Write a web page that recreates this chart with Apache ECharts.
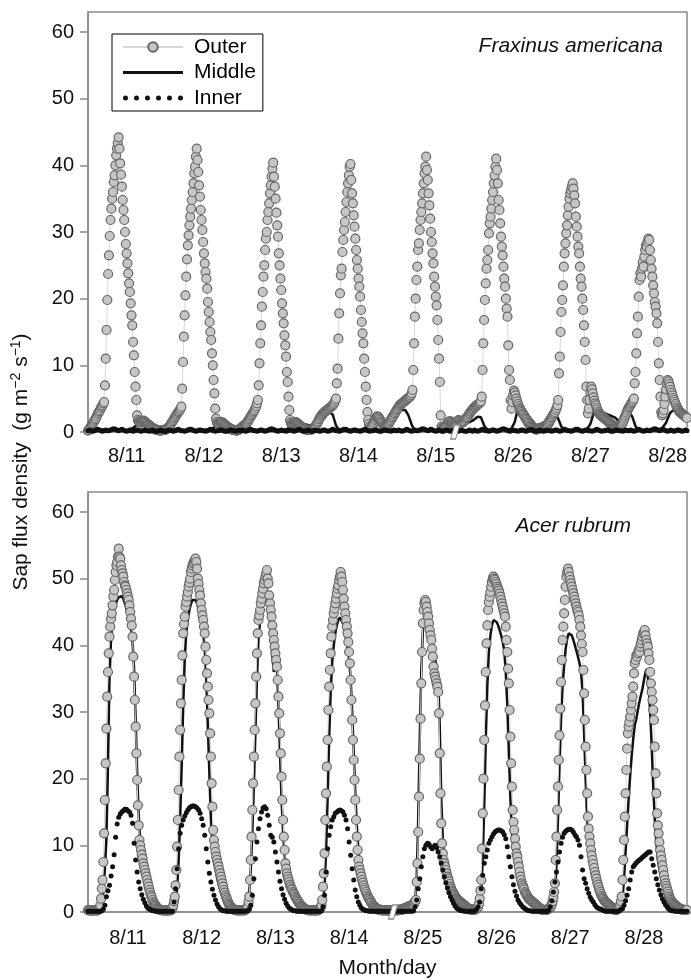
<!DOCTYPE html>
<html><head><meta charset="utf-8">
<script src="https://cdn.jsdelivr.net/npm/echarts@6.0.0/dist/echarts.min.js"></script>
<style>html,body{margin:0;padding:0;background:#fff}#c{width:691px;height:980px}</style>
</head><body><div id="c"></div><script>
// ---------- labels ----------
const topDayLabels = ['8/11','8/12','8/13','8/14','8/15','8/26','8/27','8/28'];
const botDayLabels = ['8/11','8/12','8/13','8/14','8/25','8/26','8/27','8/28'];
const topLabelHours = [12,36,60,84,108,132,156,180];
const botLabelHours = [13,37,61,85,109,133,157,181];
const yTicks = [0,10,20,30,40,50,60];
const topBreakHour = 114;
const botBreakHour = 99.3;
const OUTER_STEP = 0.25; // hours between outer readings
const LINE_STEP = 0.5;   // hours between middle / inner readings

// ---------- Fraxinus americana ----------
const topOuter = [
0.2,0.3,0.5,0.7,0.9,1.1,1.3,1.5,1.7,1.9,2.1,2.4,2.7,2.9,3.1,3.3,3.6,3.8,4.0,4.3,
4.5,7,11,15.3,19.8,23.7,26.5,29.4,31.8,33.5,35,36,37.5,38.5,40,41.5,42.5,43.3,44.2,
42.5,40.3,38.6,36.8,34.8,33.3,31.8,30,28.2,26.8,25.3,23.8,22.3,21,19.3,17.5,16,13.5,11.5,9,6.8,4.8,2.5,
1.8,1.6,1.5,1.4,1.4,1.5,1.6,1.7,1.6,1.5,1.4,1.3,1.2,1.1,1.0,0.9,0.8,0.7,0.6,0.5,0.5,0.4,0.4,0.3,0.3,0.3,0.3,0.2,0.2,0.2,0.3,0.3,0.3,0.3,
0.3,0.4,0.5,0.6,0.7,0.8,1.0,1.2,1.4,1.6,1.8,2.0,2.2,2.4,2.6,2.8,3.0,3.1,3.3,3.5,
3.8,6.5,10.5,14.3,17.5,20.5,23.3,25.9,28,29.5,31,32.3,33.5,34.8,36,37.3,38.8,39.8,41.3,42.5,
40.8,39,37,35.3,33.3,31.8,30.3,28.5,26.8,25.3,24,23,21.5,19.5,18,16.5,15,13.8,11.8,10,7.8,5.8,3.5,2,
1.5,1.3,1.2,1.2,1.3,1.4,1.5,1.4,1.3,1.2,1.1,1.0,0.9,0.8,0.7,0.6,0.5,0.5,0.4,0.4,0.3,0.3,0.3,0.3,0.2,0.2,0.3,0.3,0.4,0.5,0.6,0.7,
0.8,0.9,1.0,1.1,1.2,1.3,1.5,1.7,1.9,2.1,2.3,2.5,2.7,2.9,3.1,3.3,3.6,3.9,4.3,
4.8,7,10.3,13.3,16,18.8,21,23.3,25,27.3,29,30,31.8,33,34.3,35.8,37,38.3,39.5,40.4,
38.3,36.8,35,32.9,31,29.3,26.8,25,23,21.3,19.3,17.8,16.3,14.5,13,11.3,9,7.5,5.3,3.3,1.8,
1.4,1.2,1.1,1.2,1.3,1.4,1.5,1.4,1.3,1.2,1.1,1.0,0.9,0.8,0.7,0.6,0.5,0.5,0.4,0.4,0.3,0.3,0.3,0.3,0.3,0.3,0.4,0.5,0.6,0.7,0.8,1.0,1.2,1.4,1.6,1.9,
2.1,2.3,2.5,2.6,2.8,2.9,3.0,3.1,3.2,3.3,3.4,3.5,3.6,3.7,3.8,3.9,4.0,4.2,4.4,4.7,
5,7.3,9.5,14,17.8,20.8,23.5,24.5,27,28.8,30.3,31.5,33,34.5,36,37.3,38.5,39.8,40.2,
37.8,35.8,34.3,32.5,30.8,29,27.3,25.8,24.5,23,21.8,20.3,18.3,16.5,14.8,13.3,11,9,6.8,4.8,3,1.8,
1.2,0.8,0.6,0.7,0.9,1.2,1.5,1.8,2.0,2.2,2.3,2.3,2.2,2.0,1.8,1.6,1.4,1.2,1.0,0.9,0.8,0.8,0.9,1.0,1.2,1.4,1.6,1.8,2.0,2.2,2.4,2.6,2.8,3.0,3.2,
3.4,3.6,3.8,4.0,4.1,4.2,4.3,4.4,4.5,4.6,4.7,4.8,4.9,5.0,5.1,5.2,5.3,5.5,5.8,
6.3,9.3,13.3,17.3,20,22.8,24.8,27.3,28.3,30.3,31.8,33,34.3,35.8,37.3,38.8,39.8,41.3,
39.3,37.8,35.8,34,32,30,28.5,26.8,25.3,23.3,21.8,20.3,19,16.8,13.8,11,7.5,2.5,0.8,
0.6,0.5,0.5,0.6,0.8,1.0,1.2,1.4,1.5,1.6,1.6,1.5,1.4,1.3,1.2,1.1,1.0,1.2,1.4,1.6,1.8,1.7,1.6,1.5,1.4,1.4,1.5,1.6,1.8,2.0,
2.1,2.2,2.4,2.6,2.8,3.0,3.1,3.3,3.4,3.6,
3.7,3.8,3.9,4.0,4.1,4.2,4.3,4.4,4.6,
5.3,9.3,13.3,16.8,19.8,22.3,24.5,25.8,27.3,29.8,31.3,32.3,33.5,34.8,36,37.3,38.5,39.8,41,
39.3,37.3,34.8,33.3,31.3,29.3,27.8,26.5,24.8,23,21.8,20,18.5,17.3,13,9.3,7.8,4.8,
3.5,4.5,5.5,6.2,5.9,5.5,5.0,4.6,4.2,3.9,3.6,3.4,
3.2,3.0,2.8,2.6,2.4,2.2,2.0,1.8,1.6,1.4,1.2,1.0,0.9,0.8,0.7,0.6,0.5,0.5,0.4,0.4,0.4,0.5,0.5,0.5,0.6,0.6,0.7,0.7,0.8,0.8,0.9,1.0,1.1,1.2,
1.4,1.6,1.8,2.0,
2.2,2.4,2.6,2.8,3.0,3.3,3.6,4.0,
4.8,8.8,11.3,15,18,19.8,22,24.8,26.8,28.3,29.8,31,32.5,33.8,35,35.8,36.3,36.8,37.3,
36.5,35.5,34.3,32.3,30.8,29.3,27.8,26.8,24.8,23,21.8,20,18.3,16,13.5,10.8,6.8,4.8,2.8,
3.5,4.8,6.0,6.8,6.4,5.8,5.2,4.7,4.3,4.0,
3.6,3.3,3.0,2.8,2.6,2.5,2.4,2.3,2.2,2.1,2.0,1.9,1.8,1.7,1.6,1.5,1.4,1.3,1.2,1.1,1.0,0.9,0.8,0.8,0.7,0.7,0.8,0.8,0.9,1.0,1.1,1.2,
1.4,1.7,2.0,2.3,2.6,2.9,3.2,3.5,
3.7,3.9,4.1,4.3,4.5,4.7,
5,7.3,9,11.8,14.8,17.3,20.3,22.8,23.8,23.3,24.5,25.5,24.8,26.3,27.3,28,27.8,28.5,29,28.8,
27.3,25.8,24.5,23.3,22,20.8,19.5,18.8,17.8,16.3,13.5,10.3,7.8,5.3,3,
2.5,2.8,3.3,4.2,5.3,6.4,7.3,7.8,7.6,7.2,6.8,6.3,5.9,5.5,5.1,4.8,4.5,4.2,3.9,3.6,3.4,3.2,3.0,2.9,2.8,2.7,2.6,2.5,2.4,2.3,2.2,2.1
];
const topMiddle = [
0.1,0.2,0.3,0.3,0.4,0.4,0.5,0.5,0.4,0.3,0.3,0.2,0.3,0.3,0.2,0.2,0.3,0.4,0.3,0.2,0.3,0.4,0.3,0.3,0.2,0.3,0.4,0.5,0.6,0.8,1.0,1.2,1.4,1.5,1.6,1.6,1.5,1.4,1.3,1.1,0.9,0.7,0.5,0.4,0.3,0.3,0.2,0.3,
0.3,0.3,0.4,0.4,0.5,0.5,0.4,0.3,0.3,0.2,0.3,0.3,0.2,0.3,0.3,0.4,0.3,0.2,0.3,0.3,0.2,0.3,0.3,0.4,0.3,0.2,0.3,0.3,0.4,0.5,0.6,0.8,1.0,1.2,1.3,1.4,1.4,1.3,1.3,1.2,1.1,1.0,0.8,0.6,0.5,0.4,0.3,0.3,
0.3,0.4,0.4,0.5,0.5,0.4,0.4,0.3,0.3,0.2,0.3,0.3,0.2,0.2,0.3,0.4,0.3,0.3,0.2,0.3,0.3,0.4,0.3,0.2,0.3,0.3,0.3,0.4,0.5,0.6,0.8,1.0,1.2,1.3,1.4,1.4,1.4,1.3,1.2,1.2,1.1,1.0,0.9,0.8,0.7,0.7,0.8,1.0,
1.3,1.6,1.9,2.2,2.5,2.8,3.0,3.1,2.6,1.8,1.0,0.6,0.4,0.3,0.3,0.2,0.3,0.3,0.4,0.3,0.2,0.3,0.3,0.2,0.3,0.3,0.3,0.4,0.5,0.7,0.9,1.1,1.3,1.5,1.7,1.9,2.0,2.0,1.9,1.8,1.6,1.4,1.3,1.4,1.7,2.0,2.4,2.8,
3.0,3.1,3.2,3.3,3.4,3.3,3.0,2.5,1.8,1.1,0.6,0.4,0.3,0.3,0.2,0.3,0.3,0.2,0.3,0.3,0.4,0.3,0.2,0.3,0.3,0.2,0.3,0.3,0.3,0.4,0.5,0.6,0.7,0.8,0.8,0.9,0.9,1.0,1.0,1.1,1.1,1.2,1.2,1.3,1.4,1.5,1.6,1.7,
1.9,2.1,2.3,2.5,2.2,1.6,1.0,0.6,0.4,0.3,0.3,0.2,0.3,0.3,0.2,0.3,0.3,0.4,0.3,0.3,0.2,0.3,0.4,0.5,0.8,1.5,2.5,3.5,4.0,3.8,3.5,3.2,2.9,2.6,2.3,2.0,1.7,1.4,1.1,0.8,0.6,0.4,0.3,0.3,0.2,0.3,0.3,0.3,
1.0,1.5,2.0,2.4,2.0,1.4,0.8,0.5,0.3,0.3,0.2,0.3,0.3,0.2,0.3,0.3,0.4,0.3,0.2,0.3,0.3,0.4,0.5,0.7,1.2,2.0,2.8,3.2,3.3,3.2,3.1,3.0,2.9,2.8,2.7,2.6,2.5,2.4,2.3,2.2,2.0,1.8,1.6,1.4,1.4,1.6,1.9,2.2,
2.5,2.7,2.3,1.6,0.9,0.5,0.3,0.3,0.2,0.3,0.3,0.2,0.3,0.3,0.4,0.3,0.3,0.2,0.3,0.4,0.5,0.7,1.0,1.4,2.0,2.6,3.0,3.2,3.3,3.3,3.2,3.1,3.0,2.9,2.8,2.7,2.6
];
const topInner = [
0.2,0.3,0.2,0.1,0.2,0.3,0.4,0.3,0.2,0.1,0.2,0.3,0.2,0.2,0.3,0.4,0.5,0.4,0.3,0.2,0.3,0.4,0.3,0.2,0.1,0.2,0.3,0.2,0.1,0.2,0.3,0.3,0.2,0.1,0.2,0.3,0.2,0.2,0.1,0.2,0.3,0.2,0.1,0.1,0.2,0.3,0.2,0.1,
0.1,0.2,0.3,0.3,0.2,0.1,0.2,0.3,0.4,0.3,0.2,0.2,0.1,0.2,0.3,0.4,0.4,0.3,0.2,0.1,0.2,0.3,0.3,0.2,0.2,0.1,0.2,0.3,0.4,0.3,0.2,0.1,0.2,0.2,0.3,0.3,0.2,0.1,0.1,0.2,0.3,0.3,0.2,0.2,0.1,0.2,0.3,0.2,
0.3,0.2,0.1,0.2,0.3,0.4,0.3,0.2,0.2,0.1,0.2,0.3,0.3,0.2,0.1,0.2,0.3,0.4,0.5,0.4,0.3,0.2,0.1,0.2,0.3,0.2,0.2,0.1,0.2,0.3,0.3,0.2,0.1,0.2,0.3,0.4,0.3,0.2,0.1,0.2,0.2,0.3,0.2,0.1,0.2,0.3,0.2,0.2,
0.1,0.2,0.3,0.3,0.2,0.1,0.2,0.3,0.4,0.3,0.2,0.2,0.1,0.2,0.3,0.4,0.4,0.3,0.2,0.1,0.2,0.3,0.3,0.2,0.2,0.1,0.2,0.3,0.4,0.3,0.2,0.1,0.2,0.2,0.3,0.3,0.2,0.1,0.1,0.2,0.3,0.3,0.2,0.2,0.1,0.2,0.3,0.2,
0.2,0.3,0.2,0.1,0.2,0.3,0.4,0.3,0.2,0.1,0.2,0.3,0.2,0.2,0.3,0.4,0.5,0.4,0.3,0.2,0.3,0.4,0.3,0.2,0.1,0.2,0.3,0.2,0.1,0.2,0.3,0.3,0.2,0.1,0.2,0.3,0.2,0.2,0.1,0.2,0.3,0.2,0.1,0.1,0.2,0.3,0.2,0.1,
0.3,0.2,0.1,0.2,0.3,0.4,0.3,0.2,0.2,0.1,0.2,0.3,0.3,0.2,0.1,0.2,0.3,0.4,0.5,0.4,0.3,0.2,0.1,0.2,0.3,0.2,0.2,0.1,0.2,0.3,0.3,0.2,0.1,0.2,0.3,0.4,0.3,0.2,0.1,0.2,0.2,0.3,0.2,0.1,0.2,0.3,0.2,0.2,
0.1,0.2,0.3,0.3,0.2,0.1,0.2,0.3,0.4,0.3,0.2,0.2,0.1,0.2,0.3,0.4,0.4,0.3,0.2,0.1,0.2,0.3,0.3,0.2,0.2,0.1,0.2,0.3,0.4,0.3,0.2,0.1,0.2,0.2,0.3,0.3,0.2,0.1,0.1,0.2,0.3,0.3,0.2,0.2,0.1,0.2,0.3,0.2,
0.2,0.3,0.2,0.1,0.2,0.3,0.4,0.3,0.2,0.1,0.2,0.3,0.2,0.2,0.3,0.4,0.5,0.4,0.3,0.2,0.3,0.4,0.3,0.2,0.1,0.2,0.3,0.2,0.1,0.2,0.3,0.3,0.2,0.1,0.2,0.3,0.2
];

// ---------- Acer rubrum ----------
const botOuter = [
0.3,0.2,0.3,0.3,0.2,0.3,0.2,0.3,0.3,0.2,0.3,0.3,0.2,0.3,0.4,0.6,
1.0,2.0,3.5,4.8,7.5,11.8,16.8,22.3,27.5,32.3,36,38.8,41.3,42.8,
44,44.8,46,47.3,48.3,49.8,51,52,52.5,53.3,54.5,
53.3,53,52,51.3,50.8,50.3,49.5,49,48.8,48.3,47.8,47.3,46.8,46,45,44,43,
41.3,38.3,35.3,31.8,27.8,23.8,19.8,16,13,10.8,
10,9.3,8.6,8,7.3,6.8,6.3,5.8,5.3,4.8,4.3,3.8,3.3,2.9,2.5,2.2,1.8,1.5,1.3,1.1,1,0.8,0.6,
0.5,0.4,0.4,0.3,0.3,0.3,0.2,0.3,0.3,0.2,0.3,0.3,0.2,0.2,0.3,0.3,0.2,0.3,0.4,0.6,
1.0,1.6,2.3,4.0,6.3,9.8,13.8,18.3,23.3,27.3,31.3,34.8,38.5,41.8,43.2,44.3,
45.8,46.5,47.3,48,48.8,49.4,50,51,51.5,52,52.3,52.5,52.8,53,
52.5,51.5,50,49.2,48.3,47.5,46.3,45.3,44.5,43.8,42.8,41.8,
39.8,37.8,35.8,33.8,31.8,29.8,26.8,23.3,19.3,15.8,12.3,
10.8,9.8,9,8.3,7.8,7.3,6.8,6.3,5.8,5.3,4.8,4.3,3.8,3.3,2.9,2.5,2.2,1.9,1.6,1.3,1.1,0.9,0.8,0.6,
0.5,0.4,0.4,0.3,0.3,0.3,0.2,0.3,0.3,0.2,0.3,0.3,0.2,0.3,0.3,0.2,0.3,0.3,0.4,0.6,0.9,
1.5,2.3,4.8,7.8,11.3,15.3,19.3,23.3,27.3,31.3,35.3,38.8,41.8,43.8,
44.5,45.3,46.3,47,47.8,48.5,49.3,49.8,50.3,50.8,51.3,
50,49.3,47.5,46.3,45.3,44.3,43,41.8,40.8,39.8,38.8,37.8,36.8,
34.8,32.3,29.8,26.8,23.8,20.3,16.8,13.8,11.3,9.3,7.3,
6.5,5.8,5.3,4.9,4.5,4.1,3.8,3.5,3.3,3.0,2.8,2.6,2.3,2.1,1.9,1.7,1.5,1.3,1.2,1.0,0.9,0.8,0.7,0.6,0.5,0.4,
0.4,0.3,0.3,0.3,0.2,0.3,0.3,0.2,0.3,0.3,0.2,0.3,0.2,0.3,0.3,0.2,0.3,0.4,0.5,0.7,1.0,
1.8,3.8,5.8,8.8,13.8,17.8,21.8,25.8,30.3,33.8,36.3,38.8,41.3,
42.8,43.8,44.8,45.5,46.3,47,47.8,48.5,49,49.8,50.3,51,
50.3,49.5,48.3,47,45.8,44.8,43.8,42.8,41.8,40.5,39,
37.3,34.8,31.8,28.8,25.8,22.8,19.8,16.8,13.8,11.3,9.3,7.8,6.8,
6.3,5.8,5.3,4.8,4.4,4.0,3.6,3.3,3.0,2.7,2.4,2.2,2.0,1.8,1.6,1.4,1.2,1.0,0.9,0.8,0.7,0.6,0.5,0.4,0.4,
0.4,0.3,0.3,0.3,0.2,0.3,0.3,0.2,0.3,0.3,0.2,0.2,0.3,0.3,0.2,0.3,0.3,0.2,0.2,0.3,0.3,0.2,0.3,0.3,0.2,0.3,0.3,0.4,0.3,0.3,0.4,0.4,0.5,0.5,0.6,0.6,0.7,0.7,0.8,0.8,0.9,0.9,1.0,1.0,1.1,1.2,1.4,1.6,
1.8,4.5,7.3,12,17.3,23,29,34.3,39,43.3,
45.3,46.3,46.8,46.5,45.8,45,
44.3,43.3,42.3,41.5,40.8,39.5,38.3,36.8,
35.8,35.3,34.8,34.3,33.8,33,
29.8,23.8,17.8,13.3,10.3,8.8,
7.8,7.3,6.8,6.3,5.8,5.3,5.0,4.6,4.2,3.8,3.5,3.2,3.0,2.8,2.6,2.4,2.2,2.0,1.9,1.8,1.7,1.6,1.5,1.4,1.3,1.2,1.1,1.0,0.9,0.8,0.7,0.6,0.5,
0.5,0.4,0.4,0.4,0.3,0.3,0.3,0.3,0.4,0.4,0.5,0.6,0.8,1.2,2.0,3.2,
4.8,9.5,14.8,20,25.8,31,36,40.3,43,45.3,
46.5,47.3,48,48.8,49.5,50,50.3,
50,49.8,49.5,49.2,48.8,48.5,48.2,47.8,47.3,46.8,46.3,45.8,45.3,44.8,44.3,
42.8,40.8,39,36.5,34.3,30.3,26.3,22.3,18.8,15.3,13.5,
12.3,11,9.8,8.8,8.3,7.5,6.8,6,5.3,4.8,4.3,4.0,3.7,3.4,3.0,2.8,2.6,2.4,2.2,2.0,1.9,1.8,1.7,1.6,1.5,1.4,1.3,1.2,1.1,1.0,0.9,0.8,0.7,0.6,0.5,0.4,
0.4,0.3,0.3,0.3,0.3,0.3,0.3,0.4,0.4,0.5,0.6,0.7,0.9,1.2,1.6,2.2,3.0,
4.3,7.8,11.3,15.3,18.8,22.8,26.5,30.5,34.5,37.8,
40.8,42.8,44.8,46.8,48.8,50.3,51,51.5,
51,50.3,49.8,49.3,48.8,48.3,47.8,47.3,46.8,46.3,45.8,45.3,45,44.5,43.8,42.8,41.5,40.2,
39,36.3,32.8,28.8,24.8,21.3,17.8,14.3,12.5,11.3,10.3,
9.3,8.5,7.8,7.2,6.6,6,5.5,5,4.5,4.1,3.7,3.3,3,2.7,2.4,2.2,2,1.8,1.6,1.5,1.4,1.3,1.2,1.1,1,0.9,0.8,0.7,0.6,0.5,0.4,
0.3,0.3,0.3,0.4,0.5,0.6,0.8,1.1,1.6,2.3,
4.8,7.8,10.8,14.3,17.8,21.3,24.5,26.8,27.8,28.5,29.3,30.3,31.3,32.3,33.8,35.8,37.3,
37.8,38.5,38.3,38.8,39.3,39,39.8,40.3,40.8,41.3,41.8,42,42.3,
41.5,40.8,40.3,39.8,38.8,37.8,36,34.3,33,31.8,30.3,28.8,
24.8,20.8,17.8,14.8,13,11.8,10.5,9.3,
8.5,7.8,7,6.3,5.5,4.8,4.3,3.9,3.5,3.1,2.7,2.3,2,1.8,1.6,1.4,1.3,1.2,1.1,1,0.9,0.8,0.7,0.6,0.5,0.5,0.4,0.4,0.4,0.3,0.3,0.3,0.3,0.3,0.3
];
const botMiddle = [
0.2,0.2,0.2,0.2,0.2,0.2,0.2,0.3,0.5,
1.2,3,6.5,11,22,35,41,44,
45.3,46.2,46.8,47.2,47.5,47.4,47,46.3,45.5,44.6,43.5,42.5,
40.5,36.5,29,21,14.5,10.5,8,
6.3,5,4,3.2,2.5,2,1.6,1.2,1,0.8,0.6,0.5,
0.4,0.3,0.3,0.2,0.2,0.2,0.2,0.3,
0.6,1.5,3.5,7.5,14,22,31,38,
42,44,45.3,46.2,46.8,47,46.8,46.3,45.5,44.5,43.3,42,
39.5,35,28,21,14,10,8,
6.5,5.2,4.2,3.4,2.7,2.1,1.7,1.3,1,0.8,0.6,0.5,0.4,
0.3,0.3,0.2,0.2,0.2,0.2,0.3,0.5,
1.2,3,6.5,12,19,27,35,41,
43.5,45,46,46.8,47.3,47,
45,42,38.5,36,38,36.5,
31,24,17,12,8.5,6.5,
5.2,4.3,3.6,3,2.5,2,1.6,1.3,1,0.8,0.6,0.5,
0.4,0.3,0.3,0.2,0.2,0.2,0.2,0.2,0.3,0.4,0.6,
1.5,4,9,17,26,33,37.5,
40,41.8,43,43.8,44.2,44,43.3,42.3,41,39.5,38,
35,30,24,18,13,9.5,7,
5.5,4.5,3.6,3,2.4,2,1.6,1.3,1,0.8,0.6,0.5,
0.4,0.3,0.3,0.3,0.2,0.2,0.2,0.2,0.2,0.2,0.2,0.2,0.2,0.2,0.2,0.2,0.2,0.3,0.3,0.3,0.4,0.5,0.7,
1.5,5,14,26,36,42,
45,46.5,47,45.5,43,41,39.5,38,36.5,35,
28,17,11,
8,6.5,5.3,4.3,3.5,2.9,2.4,2,1.7,1.4,1.2,1,0.8,0.7,0.6,0.5,
0.4,0.3,0.3,0.3,0.3,0.4,0.6,1.2,
3,8,16,26,34,39,
41.5,43,43.8,44,43.5,43,42.3,41.5,40.5,39.3,
36,31,24,17,12,9,
7.5,6.3,5.3,4.5,3.8,3.2,2.7,2.3,2,1.7,1.4,1.2,1,0.8,0.7,0.6,0.5,0.4,
0.3,0.3,0.3,0.3,0.3,0.4,0.6,1.0,
2.5,7,14,22,29,34,
37,39.5,41,41.8,42,41.5,40.8,40,39.2,38.3,37.3,36,
33,27,20,14,10,8,
6.5,5.3,4.4,3.6,3,2.5,2.1,1.7,1.4,1.2,1,0.8,0.6,0.5,0.4,
0.3,0.3,0.4,0.6,1.0,
2,5,9,13,17,20.5,23.5,26,28,
29,30.3,31.5,32.5,33.5,34.8,36,36.5,
34,30,25,19,14,10.5,8,6.5,
5.3,4.4,3.7,3.1,2.6,2.2,1.8,1.5,1.3,1.1,0.9,0.8,0.7,0.6,0.5,0.4,0.4,0.3
];
const botInner = [
0.1,0.1,0.1,0.1,0.1,0.1,0.1,0.1,0.1,0.2,0.4,
1.0,2.3,3.2,4.0,5.4,6.8,8.6,11.2,13.2,14.2,
14.7,15,15.2,15.4,15.4,15.2,15,14.5,13.3,
10.3,7.8,6,4.5,3.5,2.6,1.9,1.4,0.9,0.6,0.4,0.3,
0.2,0.2,0.1,0.1,0.1,0.1,0.1,0.1,0.1,0.1,0.1,0.1,0.1,0.1,
1.5,3.5,6.5,9.5,11.8,13,
13.8,14.4,14.9,15.3,15.6,15.8,15.9,15.9,15.8,15.6,15.3,
14.8,14,13,11.5,9.5,7.5,5.8,4.5,3.4,2.5,1.8,1.2,0.8,0.5,0.3,
0.2,0.2,0.1,0.1,0.1,0.1,0.1,0.1,0.1,0.1,0.1,0.1,0.1,0.1,0.1,0.2,
0.2,0.4,1.0,2.5,5,8,10.5,12.5,
14,15,15.6,15.8,15.5,14.5,13,
11.5,11.2,10.5,
9,7.5,6,4.6,3.5,2.6,1.9,1.3,0.9,0.6,0.4,0.3,0.2,
0.2,0.1,0.1,0.1,0.1,0.1,0.1,0.1,0.1,0.1,0.1,0.1,0.1,0.1,0.1,0.1,0.1,0.2,
0.8,2.5,6,9.5,11.5,12.8,13.8,
14.3,14.8,15,15.2,15.3,15.2,15,14.5,13.8,
12.5,10.5,8.5,6.5,4.8,3.3,2.3,1.5,1,0.6,0.4,0.3,0.2,
0.2,0.1,0.1,0.1,0.1,0.1,0.1,0.1,0.1,0.1,0.1,0.1,0.1,0.1,0.1,0.1,0.1,0.1,0.1,0.1,0.1,0.1,0.1,0.1,0.1,0.1,0.1,0.1,0.1,0.1,0.2,
0.8,1.8,3.5,5,6.8,8.3,9.5,
10,10.3,10.2,9.8,9.5,9.8,10,9.6,9,
8.3,7.3,6.3,5.3,4.4,3.6,2.9,2.3,1.8,1.3,0.9,0.6,0.4,0.3,
0.2,0.2,0.1,0.1,0.1,0.1,0.1,0.1,0.1,0.2,0.4,0.8,1.5,
3.5,5.5,7.3,8.3,9.3,10.3,10.8,11.3,11.7,12,12.2,12.3,
12.3,12.2,12,11.6,11,
9.8,8.3,6.8,5.3,4.1,3.1,2.4,1.8,1.4,1.1,0.8,0.6,0.4,0.3,0.2,0.2,0.1,
0.1,0.1,0.1,0.1,0.1,0.1,0.1,0.1,0.1,0.1,0.3,0.8,1.7,3.0,
4.5,6,7.5,9,10.3,11.2,11.8,12.1,12.3,12.4,
12.4,12.3,12,11.6,
11.3,10.8,10,8.3,6.3,5,4.3,3.5,2.8,2.2,1.8,1.5,1.1,0.8,0.6,0.5,
0.4,0.3,0.2,0.1,0.1,0.1,0.1,0.1,0.1,0.1,0.1,0.1,0.2,0.4,
0.5,1,1.7,2.5,3.5,4.8,6,6.8,
7.1,7.4,7.6,7.8,8,8.2,8.4,8.6,8.8,9,9,
8,7,6,5,4.1,3.3,2.6,2,1.5,1.1,0.8,0.5,0.3,
0.2,0.2,0.1,0.1,0.1,0.1,0.1,0.1,0.1,0.1,0.1
];

// ---------- chart ----------
const FONT = '"Liberation Sans", Arial, Helvetica, sans-serif';
const GRAY = '#8c8c8c';
const toPairs = (arr, step) => arr.map((v, i) => [i * step, v]);
const breakSymbol = 'path://M4,0 L9,0 L5,14 L0,14 Z';
const innerIcon = 'path://M0,2.5a2.5,2.5 0 1,0 5,0a2.5,2.5 0 1,0 -5,0M11,2.5a2.5,2.5 0 1,0 5,0a2.5,2.5 0 1,0 -5,0M22,2.5a2.5,2.5 0 1,0 5,0a2.5,2.5 0 1,0 -5,0M33,2.5a2.5,2.5 0 1,0 5,0a2.5,2.5 0 1,0 -5,0M44,2.5a2.5,2.5 0 1,0 5,0a2.5,2.5 0 1,0 -5,0M55,2.5a2.5,2.5 0 1,0 5,0a2.5,2.5 0 1,0 -5,0';
const middleIcon = 'path://M0,0 L60,0 L60,3 L0,3 Z';

function panelSeries(g, outer, middle, inner, breakHour) {
  return [
    { name: 'Middle', type: 'line', xAxisIndex: g, yAxisIndex: g, data: toPairs(middle, LINE_STEP),
      symbol: 'none', lineStyle: { color: '#111', width: 2.5 }, itemStyle: { color: '#111' }, z: 2, silent: true },
    { name: 'Outer', type: 'line', xAxisIndex: g, yAxisIndex: g, data: toPairs(outer, OUTER_STEP),
      symbol: 'circle', symbolSize: 9, showSymbol: true,
      itemStyle: { color: '#c6c6c6', borderColor: '#666', borderWidth: 1.2 },
      lineStyle: { color: '#d8d8d8', width: 1 }, z: 3, silent: true,
      markPoint: { silent: true, label: { show: false }, z: 10,
        data: [{ coord: [breakHour, 0], symbol: breakSymbol, symbolSize: [9, 14],
                 itemStyle: { color: '#fff', borderColor: '#8c8c8c', borderWidth: 1.2 } }] } },
    { name: 'Inner', type: 'line', xAxisIndex: g, yAxisIndex: g, data: toPairs(inner, LINE_STEP),
      symbol: 'circle', symbolSize: 5, itemStyle: { color: '#111' },
      lineStyle: { width: 0, opacity: 0 }, z: 4, silent: true }
  ];
}

function xAxis(g, max, hours, labels, margin, extra) {
  return Object.assign({
    gridIndex: g, type: 'value', min: 0, max: max,
    axisLine: { show: true, onZero: false, lineStyle: { color: GRAY, width: 1.5 } },
    axisTick: { show: false },
    splitLine: { show: false },
    axisLabel: { customValues: hours, fontSize: 20, color: '#111', fontFamily: FONT, margin: margin,
      formatter: v => labels[hours.indexOf(v)] }
  }, extra || {});
}
function yAxis(g) {
  return {
    gridIndex: g, type: 'value', min: 0, max: 63, interval: 10,
    axisLine: { show: true, lineStyle: { color: GRAY, width: 1.5 } },
    axisTick: { show: true, length: 8, customValues: yTicks, lineStyle: { color: GRAY, width: 1.5 } },
    splitLine: { show: false },
    axisLabel: { customValues: yTicks, fontSize: 20, color: '#111', fontFamily: FONT, margin: 14 }
  };
}

const chart = echarts.init(document.getElementById('c'), null, { renderer: 'canvas' });
chart.setOption({
  animation: false,
  backgroundColor: '#fff',
  textStyle: { fontFamily: FONT },
  grid: [
    { left: 88, right: 4, top: 12, height: 420, show: true, borderColor: GRAY, borderWidth: 1.5 },
    { left: 88, right: 4, top: 492, height: 420, show: true, borderColor: GRAY, borderWidth: 1.5 }
  ],
  xAxis: [
    xAxis(0, 186, topLabelHours, topDayLabels, 14),
    xAxis(1, 195, botLabelHours, botDayLabels, 16, {
      name: 'Month/day', nameLocation: 'middle', nameGap: 46,
      nameTextStyle: { fontSize: 21, color: '#111', fontFamily: FONT } })
  ],
  yAxis: [yAxis(0), yAxis(1)],
  title: [
    { text: 'Fraxinus americana', right: 28, top: 36, padding: 0,
      textStyle: { fontStyle: 'italic', fontWeight: 'normal', fontSize: 21, color: '#111', fontFamily: FONT } },
    { text: 'Acer rubrum', right: 60, top: 516, padding: 0,
      textStyle: { fontStyle: 'italic', fontWeight: 'normal', fontSize: 21, color: '#111', fontFamily: FONT } }
  ],
  legend: {
    left: 112, top: 34, orient: 'vertical', selectedMode: false,
    data: [{ name: 'Outer' }, { name: 'Middle', icon: middleIcon }, { name: 'Inner', icon: innerIcon }],
    itemWidth: 60, itemHeight: 12, itemGap: 3.5,
    padding: [2, 7, 2, 10],
    borderColor: '#000', borderWidth: 1, borderRadius: 0, backgroundColor: '#fff',
    textStyle: { fontSize: 21, color: '#000', fontFamily: FONT, lineHeight: 22, padding: [0, 0, 0, 6] }
  },
  graphic: [{
    type: 'text', x: 21, y: 462, rotation: Math.PI / 2, silent: true,
    style: {
      text: '{a|Sap flux density  (g m}{s|\u22122}{a| s}{s|\u22121}{a|)}',
      align: 'center', verticalAlign: 'middle',
      rich: {
        a: { fontSize: 21, fontFamily: FONT, fill: '#111' },
        s: { fontSize: 14, fontFamily: FONT, fill: '#111', padding: [0, 0, 9, 0] }
      }
    }
  }],
  series: [].concat(
    panelSeries(0, topOuter, topMiddle, topInner, topBreakHour),
    panelSeries(1, botOuter, botMiddle, botInner, botBreakHour)
  )
});
</script></body></html>
